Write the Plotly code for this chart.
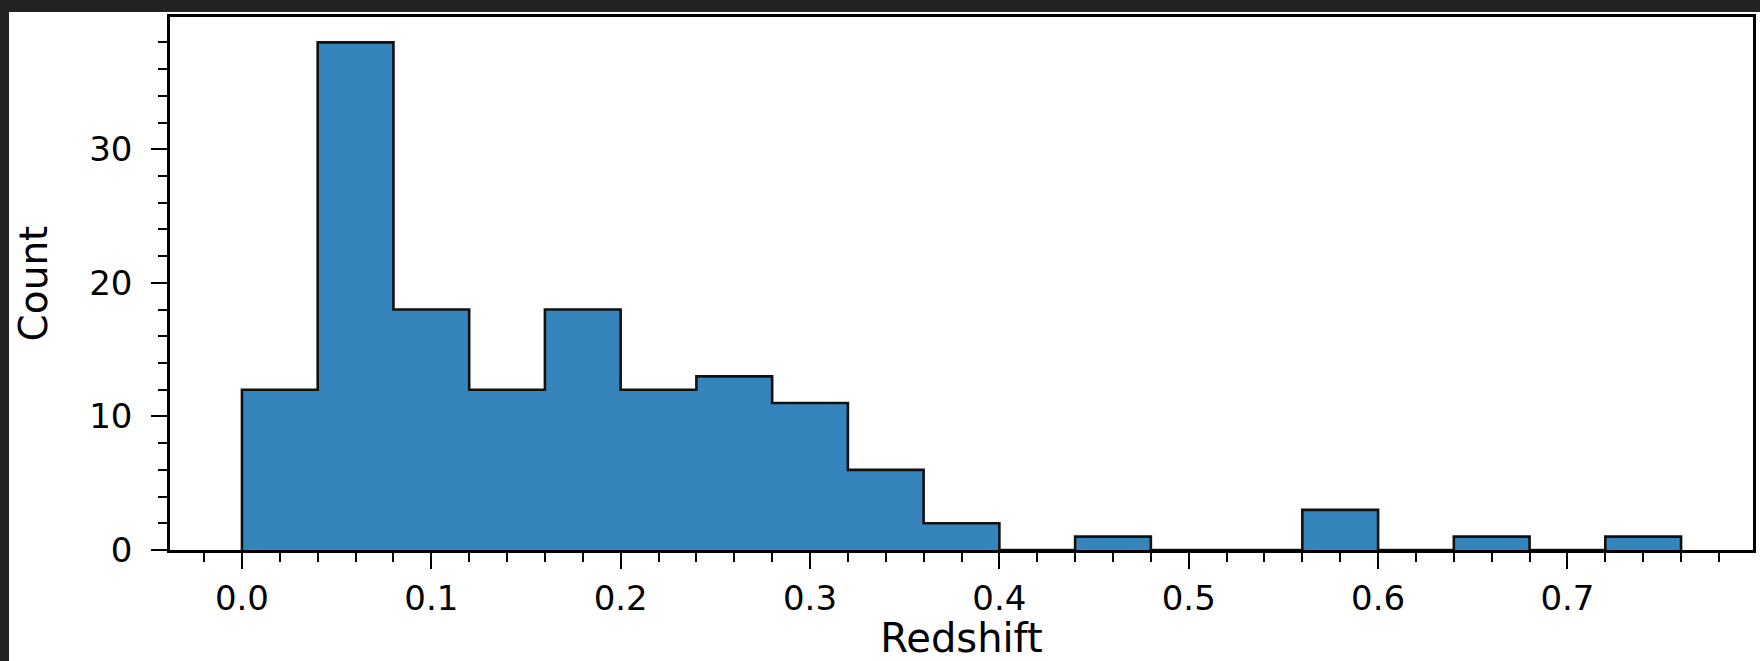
import plotly.graph_objects as go

# Histogram of source redshifts: bin edges (width 0.04) and counts per bin
bin_edges = [0.00, 0.04, 0.08, 0.12, 0.16, 0.20, 0.24, 0.28, 0.32, 0.36,
             0.40, 0.44, 0.48, 0.52, 0.56, 0.60, 0.64, 0.68, 0.72, 0.76]
counts = [12, 38, 18, 12, 18, 12, 13, 11, 6, 2,
          0, 1, 0, 0, 3, 0, 1, 0, 1]

x_title = "Redshift"
y_title = "Count"

# Step outline (stepfilled histogram): up at the first edge, across each bin, down at the last edge
step_x = [bin_edges[0]] + bin_edges
step_y = [0] + counts + [0]

W, H = 1760, 661
ML, MR, MT, MB = 170, 7, 17, 111
FONT = "DejaVu Sans"

fig = go.Figure()
fig.add_trace(go.Scatter(
    x=step_x, y=step_y,
    mode="lines",
    line=dict(shape="hv", color="#111111", width=2.6),
    fill="tozeroy",
    fillcolor="rgba(31,119,180,0.9)",
    hoverinfo="skip",
    showlegend=False,
))

# White figure canvas on the dark page
pw = W - ML - MR
ph = H - MT - MB
fig.add_shape(
    type="rect", xref="paper", yref="paper", layer="below",
    x0=(9 - ML) / pw, x1=(W - ML) / pw,
    y0=-(H - MT - ph) / ph, y1=(H - 12 - MB) / ph,
    fillcolor="white", line=dict(width=0),
)

axis_common = dict(
    showline=True, linecolor="black", linewidth=2.6, mirror=True,
    ticks="outside", ticklen=16, tickwidth=2.3, tickcolor="black",
    showgrid=False, zeroline=False,
    tickfont=dict(family=FONT, size=34, color="black"),
)

fig.update_xaxes(
    range=[-0.038, 0.798], tick0=0, dtick=0.1, tickformat=".1f",
    minor=dict(ticks="outside", ticklen=9, tickwidth=2.3, tickcolor="black",
               tick0=0, dtick=0.02, showgrid=False),
    title=dict(text=x_title, font=dict(family=FONT, size=40, color="black"), standoff=17),
    **axis_common,
)
fig.update_yaxes(
    range=[0, 39.9], tick0=0, dtick=10,
    minor=dict(ticks="outside", ticklen=9, tickwidth=2.3, tickcolor="black",
               tick0=0, dtick=2, showgrid=False),
    ticklabelstandoff=12,
    title=dict(text=y_title, font=dict(family=FONT, size=39, color="black"), standoff=30),
    **axis_common,
)

fig.update_layout(
    width=W, height=H,
    margin=dict(l=ML, r=MR, t=MT, b=MB, autoexpand=False),
    paper_bgcolor="#222222",
    plot_bgcolor="white",
)

fig.write_html("out.html")
